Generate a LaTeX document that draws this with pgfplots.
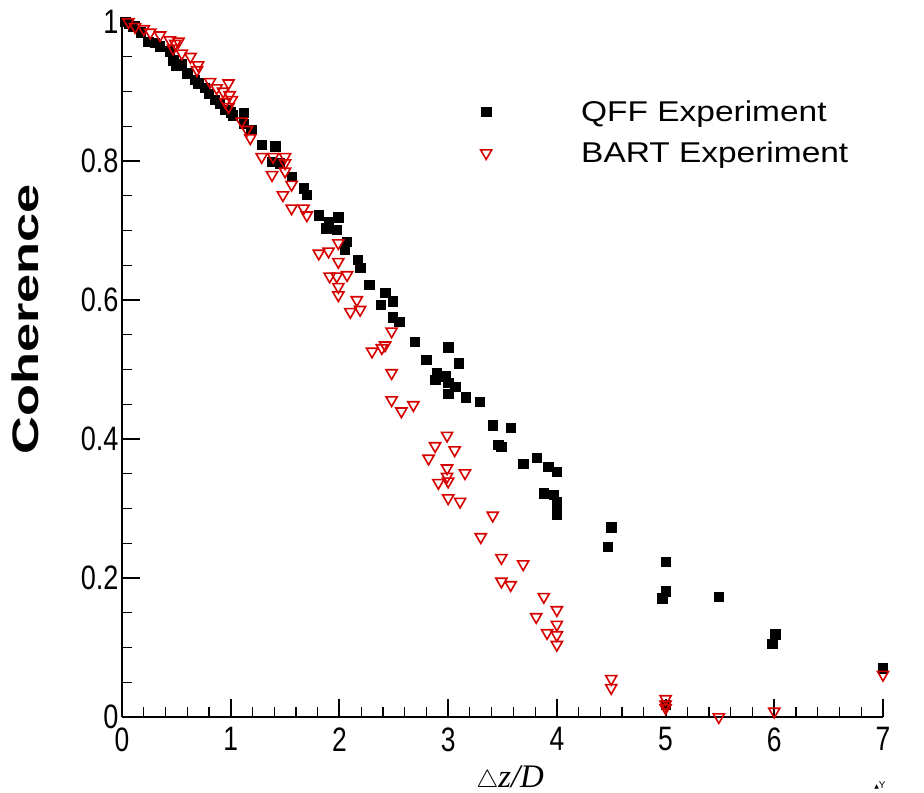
\documentclass[border=0pt]{standalone}
\usepackage{fontspec}
\setmainfont{Liberation Sans}
\newfontfamily\seriffont{Liberation Serif}
\newfontfamily\symfont{DejaVu Sans}
\usepackage{pgfplots}
\pgfplotsset{compat=1.18}
\usepackage{graphicx}
\definecolor{bartred}{RGB}{215,0,0}

\begin{document}
\begin{tikzpicture}
\path[use as bounding box] (-122bp,-76bp) rectangle (802bp,717bp);
\begin{axis}[
  at={(0,0)}, anchor=south west,
  scale only axis, width=761bp, height=695bp,
  xmin=0, xmax=7, ymin=0, ymax=1,
  clip=false,
  axis x line=bottom, axis y line=left,
  axis line style={-, line width=2.5bp, black},
  xtick={0,1,2,3,4,5,6,7}, ytick={0,0.2,0.4,0.6,0.8,1},
  minor x tick num=4, minor y tick num=3,
  tick align=inside,
  major tick length=18bp, minor tick length=10bp,
  major tick style={line width=2bp, black},
  minor tick style={line width=1.2bp, black},
  /pgf/number format/assume math mode=true,
  ticklabel style={font=\fontsize{34}{34}\selectfont},
  xticklabel style={yshift=-7bp},
  xticklabel={\scalebox{0.78}[1]{\pgfmathprintnumber{\tick}}},
  yticklabel={\scalebox{0.8}[1]{\pgfmathprintnumber{\tick}}},
  xlabel={$\triangle${\seriffont\itshape z/D}},
  xlabel style={at={(axis description cs:0.51,-0.089)}, anchor=center, font=\fontsize{33}{33}\selectfont},
  ylabel={\scalebox{1.42}[1]{\bfseries Coherence}},
  ylabel style={at={(axis description cs:-0.1265,0.572)}, anchor=center, font=\fontsize{37}{37}\selectfont},
  legend cell align=left,
  legend image code/.code={\draw[#1] plot coordinates {(0bp,0bp)};},
  legend style={draw=none, fill=none, at={(0.471,0.887)}, anchor=north west,
    inner xsep=0pt, inner ysep=0pt, nodes={inner sep=0pt, text depth=0.15em},
    row sep=19bp, column sep=89.5bp, font=\fontsize{28.7}{28.7}\selectfont},
]
\addplot[only marks, mark=square*, mark size=4.7bp, black, mark options={line width=0.5bp}] coordinates {
(0.03,1.0) (0.06,0.998) (0.10,0.993) (0.17,0.985) (0.24,0.972) (0.30,0.970)
(0.35,0.965) (0.44,0.958) (0.47,0.945) (0.50,0.938) (0.55,0.940) (0.60,0.926)
(0.67,0.917) (0.70,0.912) (0.76,0.905) (0.80,0.897) (0.855,0.888) (0.90,0.882)
(0.95,0.874) (1.00,0.870) (1.02,0.866) (1.12,0.869) (1.12,0.854) (1.19,0.845)
(1.285,0.823) (1.41,0.821) (1.38,0.799) (1.45,0.797) (1.56,0.777) (1.67,0.761)
(1.70,0.751) (1.81,0.722) (1.99,0.719) (1.90,0.713) (1.88,0.703) (1.975,0.701)
(2.07,0.684) (2.05,0.672) (2.17,0.658) (2.19,0.646) (2.275,0.622) (2.42,0.610)
(2.49,0.598) (2.38,0.593) (2.49,0.575) (2.55,0.569) (2.695,0.540) (3.00,0.532)
(2.80,0.514) (3.10,0.509) (2.895,0.495) (2.98,0.490) (2.88,0.485) (3.00,0.481)
(3.065,0.475) (3.00,0.465) (3.16,0.460) (3.29,0.454) (3.41,0.420) (3.576,0.416)
(3.46,0.392) (3.49,0.389) (3.69,0.364) (3.815,0.373) (3.92,0.360) (4.00,0.353)
(3.88,0.322) (3.97,0.320) (4.00,0.310) (4.00,0.298) (4.00,0.291) (4.50,0.273)
(4.47,0.245) (5.00,0.223) (5.00,0.181) (4.97,0.171) (5.49,0.173) (6.01,0.119)
(5.98,0.105) (7.00,0.070) (5.00,0.018)
};
\addlegendentry{\scalebox{1.17}[1]{QFF Experiment}}
\addplot[only marks, mark=triangle, mark size=6.4bp, bartred, mark options={rotate=180, line width=1.6bp}] coordinates {
(0.06,1.0) (0.12,0.993) (0.20,0.990) (0.26,0.985) (0.35,0.981) (0.44,0.974)
(0.49,0.969) (0.52,0.972) (0.47,0.962) (0.55,0.955) (0.63,0.950) (0.70,0.938)
(0.69,0.931) (0.81,0.914) (0.98,0.912) (0.87,0.905) (0.93,0.900) (0.99,0.895)
(0.95,0.885) (1.01,0.888) (0.98,0.878) (1.10,0.857) (1.15,0.845) (1.18,0.833)
(1.285,0.806) (1.39,0.806) (1.50,0.806) (1.50,0.797) (1.50,0.785) (1.38,0.780)
(1.56,0.766) (1.48,0.751) (1.56,0.732) (1.67,0.732) (1.70,0.722) (1.81,0.667)
(1.90,0.670) (1.99,0.682) (1.99,0.655) (1.91,0.634) (1.975,0.634) (2.07,0.636)
(1.99,0.619) (1.99,0.607) (2.16,0.600) (2.10,0.583) (2.19,0.586) (2.48,0.555)
(2.30,0.526) (2.39,0.531) (2.42,0.535) (2.48,0.495) (2.48,0.456) (2.57,0.440)
(2.68,0.449) (2.99,0.405) (2.88,0.390) (3.06,0.384) (2.82,0.372) (2.99,0.358)
(2.99,0.346) (3.155,0.351) (2.91,0.337) (3.00,0.339) (3.00,0.315) (3.11,0.310)
(3.41,0.290) (3.30,0.259) (3.49,0.229) (3.69,0.220) (3.49,0.195) (3.575,0.190)
(3.88,0.173) (4.00,0.154) (3.81,0.144) (4.00,0.133) (3.91,0.121) (4.00,0.118)
(4.00,0.104) (4.50,0.055) (4.50,0.042) (5.00,0.026) (5.00,0.018) (5.00,0.013)
(5.49,0.0) (6.00,0.008) (7.00,0.061)
};
\addlegendentry{\scalebox{1.17}[1]{BART Experiment}}
\end{axis}
\node[font=\fontsize{10}{10}\selectfont, anchor=center] at (758bp,-68bp) {{\symfont\fontsize{6}{6}\selectfont ▲}Y};
\end{tikzpicture}
\end{document}
